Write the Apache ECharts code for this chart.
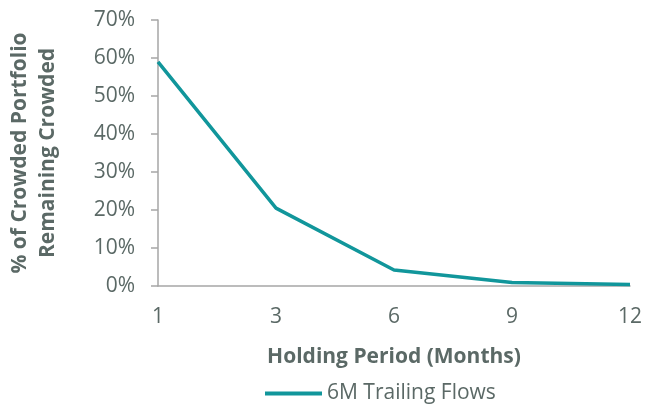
<!DOCTYPE html>
<html>
<head>
<meta charset="utf-8">
<script src="https://cdn.jsdelivr.net/npm/echarts@6/dist/echarts.min.js"></script>
<style>html,body{margin:0;padding:0;background:#fff;}#c{width:647px;height:409px;}</style>
</head>
<body>
<div id="c"></div>
<script>
const categories = ['1', '3', '6', '9', '12'];
const trailingFlows = [0.59, 0.205, 0.042, 0.009, 0.004];
const seriesName = '6M Trailing Flows';
const yTitle = '% of Crowded Portfolio\nRemaining Crowded';
const xTitle = 'Holding Period (Months)';

const textColor = '#5b6966';
const fontFam = '"Open Sans", "Noto Sans", sans-serif';
const chart = echarts.init(document.getElementById('c'));
chart.setOption({
  animation: false,
  grid: { left: 158, right: 17, top: 20, bottom: 123, containLabel: false, outerBoundsMode: 'none' },
  legend: {
    data: [seriesName], top: 383, left: 265, itemWidth: 57, itemHeight: 4, itemGap: 5,
    icon: 'rect', padding: 0,
    textStyle: { color: textColor, fontSize: 21, fontFamily: fontFam }
  },
  xAxis: {
    type: 'category', data: categories, boundaryGap: false,
    name: xTitle, nameLocation: 'middle', nameGap: 61,
    nameTextStyle: { color: textColor, fontSize: 21, fontWeight: 'bold', fontFamily: fontFam },
    axisLine: { lineStyle: { color: '#a6a6a6', width: 1.5 } },
    axisTick: { show: false },
    axisLabel: { color: textColor, fontSize: 21, margin: 21, fontFamily: fontFam }
  },
  yAxis: {
    type: 'value', min: 0, max: 0.7, interval: 0.1,
    name: yTitle, nameLocation: 'middle', nameGap: 96, nameRotate: 90,
    nameTextStyle: { color: textColor, fontSize: 21, fontWeight: 'bold', fontFamily: fontFam, lineHeight: 28 },
    axisLine: { show: true, lineStyle: { color: '#a6a6a6', width: 1.5 } },
    axisTick: { show: true, length: 7, lineStyle: { color: '#a6a6a6', width: 1.5 } },
    splitLine: { show: false },
    axisLabel: { color: textColor, fontSize: 21, margin: 23, fontFamily: fontFam,
      formatter: v => Math.round(v * 100) + '%' }
  },
  series: [{
    name: seriesName, type: 'line', data: trailingFlows,
    showSymbol: false, symbol: 'none',
    lineStyle: { color: '#11969b', width: 3.5 },
    itemStyle: { color: '#11969b' }
  }]
});
</script>
</body>
</html>
